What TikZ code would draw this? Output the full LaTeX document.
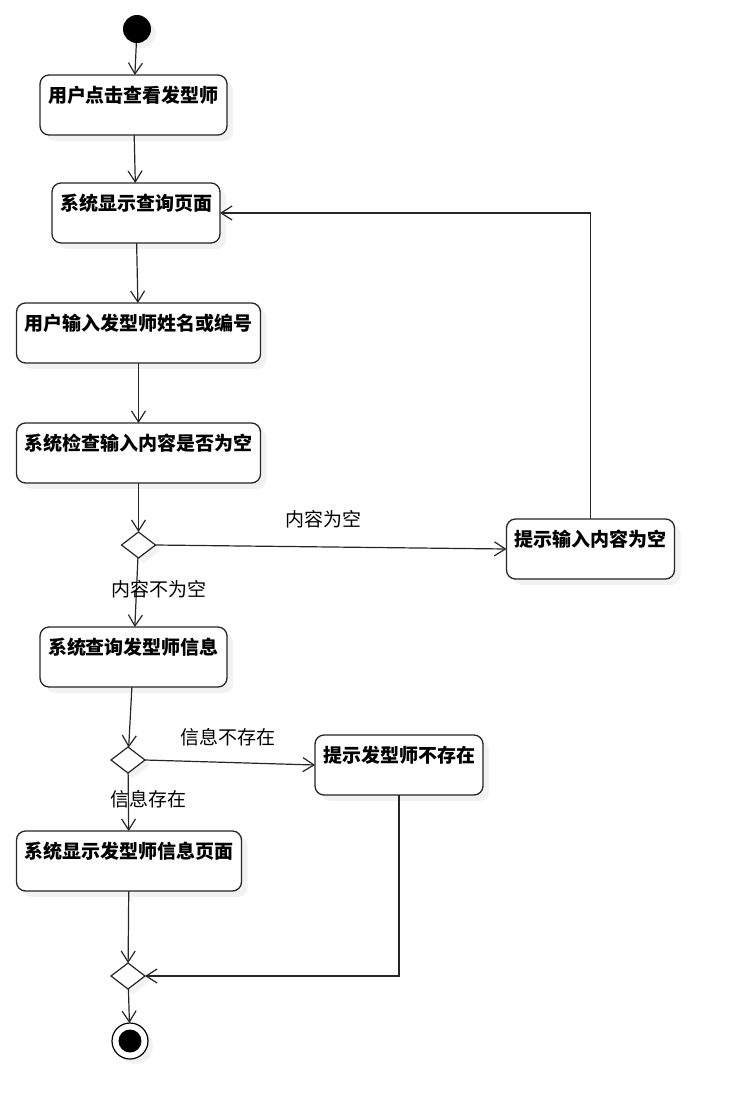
\documentclass[tikz,border=0pt]{standalone}
\usepackage{fontspec}
\newfontfamily\cjk{Noto Sans CJK SC}
\usetikzlibrary{shapes.geometric,arrows.meta,positioning,shadows}
\tikzset{
  act/.style    = {rectangle, rounded corners=9pt, draw=black!85,
                   line width=1.3pt, fill=white, inner xsep=8pt,
                   inner ysep=4pt, outer sep=0pt, text height=23pt,
                   text depth=29pt,
                   font=\cjk\bfseries\fontsize{19}{22}\selectfont,
                   drop shadow={shadow xshift=6pt, shadow yshift=-6pt,
                                opacity=0.10}},
  dec/.style    = {diamond, draw=black!85, line width=1.2pt, fill=white,
                   minimum width=34pt, minimum height=26pt, inner sep=0pt,
                   outer sep=0pt,
                   drop shadow={shadow xshift=5pt, shadow yshift=-5pt,
                                opacity=0.10}},
  initst/.style = {circle, fill=black, minimum size=28pt, inner sep=0pt,
                   outer sep=0pt,
                   drop shadow={shadow xshift=5pt, shadow yshift=-5pt,
                                opacity=0.10}},
  finst/.style  = {circle, draw=black, line width=1.2pt, fill=white,
                   minimum size=36pt, inner sep=0pt, outer sep=0pt,
                   path picture={\fill[black] (path picture bounding box.center)
                                 circle (11.5pt);},
                   drop shadow={shadow xshift=5pt, shadow yshift=-5pt,
                                opacity=0.10}},
  lbl/.style    = {font=\cjk\fontsize{19}{22}\selectfont, inner sep=1pt},
  arr/.style    = {-{Straight Barb[length=11pt, width=14pt]},
                   line width=1.2pt, draw=black!85},
}
\begin{document}
\begin{tikzpicture}[x=1pt, y=-1pt]
\useasboundingbox (0,0) rectangle (736,1120);

%% ── Main column ───────────────────────────────────────────
\node[initst] (start) at (137,29) {};
\node[act, below=32pt of start, xshift=-3.5pt] (click)  {用户点击查看发型师};
\node[act, below=48pt of click, xshift=2.5pt]  (page)   {系统显示查询页面};
\node[act, below=60pt of page, xshift=2.5pt]   (input)  {用户输入发型师姓名或编号};
\node[act, below=60pt of input]                (check)  {系统检查输入内容是否为空};
\node[dec, below=49pt of check]                (isnull) {};
\node[act, below=69pt of isnull, xshift=-5pt]  (query)  {系统查询发型师信息};
\node[dec, below=60pt of query, xshift=-5.5pt] (exists) {};
\node[act, below=58pt of exists, xshift=1pt]   (show)   {系统显示发型师信息页面};
\node[dec, below=72pt of show, xshift=-1pt]    (merge)  {};
\node[finst, below=34pt of merge, xshift=2pt]  (stop)   {};

%% ── Side branches ─────────────────────────────────────────
\node[act, right=351pt of isnull, yshift=-4pt] (empty)   {提示输入内容为空};
\node[act, right=170pt of exists, yshift=-5pt] (missing) {提示发型师不存在};

%% ── Arrows: main flow ─────────────────────────────────────
\draw[arr] (start)  -- (click);
\draw[arr] (click)  -- (page);
\draw[arr] (page)   -- (input);
\draw[arr] (input)  -- (check);
\draw[arr] (check)  -- (isnull);
\draw[arr] (isnull) -- node[lbl, pos=0.46, xshift=22pt] (lnotnull) {内容不为空} (query);
\draw[arr] (query)  -- (exists);
\draw[arr] (exists) -- node[lbl, pos=0.45, xshift=20pt] (lfound) {信息存在} (show);
\draw[arr] (show)   -- (merge);
\draw[arr] (merge)  -- (stop);

%% ── Arrows: branches ──────────────────────────────────────
\draw[arr] (isnull.east) -- node[lbl, pos=0.48, above=17pt] (lnull) {内容为空} (empty.west);
\draw[arr] (empty.north) |- (page.east);
\draw[arr] (exists.east) -- node[lbl, pos=0.49, above=15pt] (lnofound) {信息不存在} (missing.west);
\draw[arr] (missing.south) |- (merge.east);

\end{tikzpicture}
\end{document}
